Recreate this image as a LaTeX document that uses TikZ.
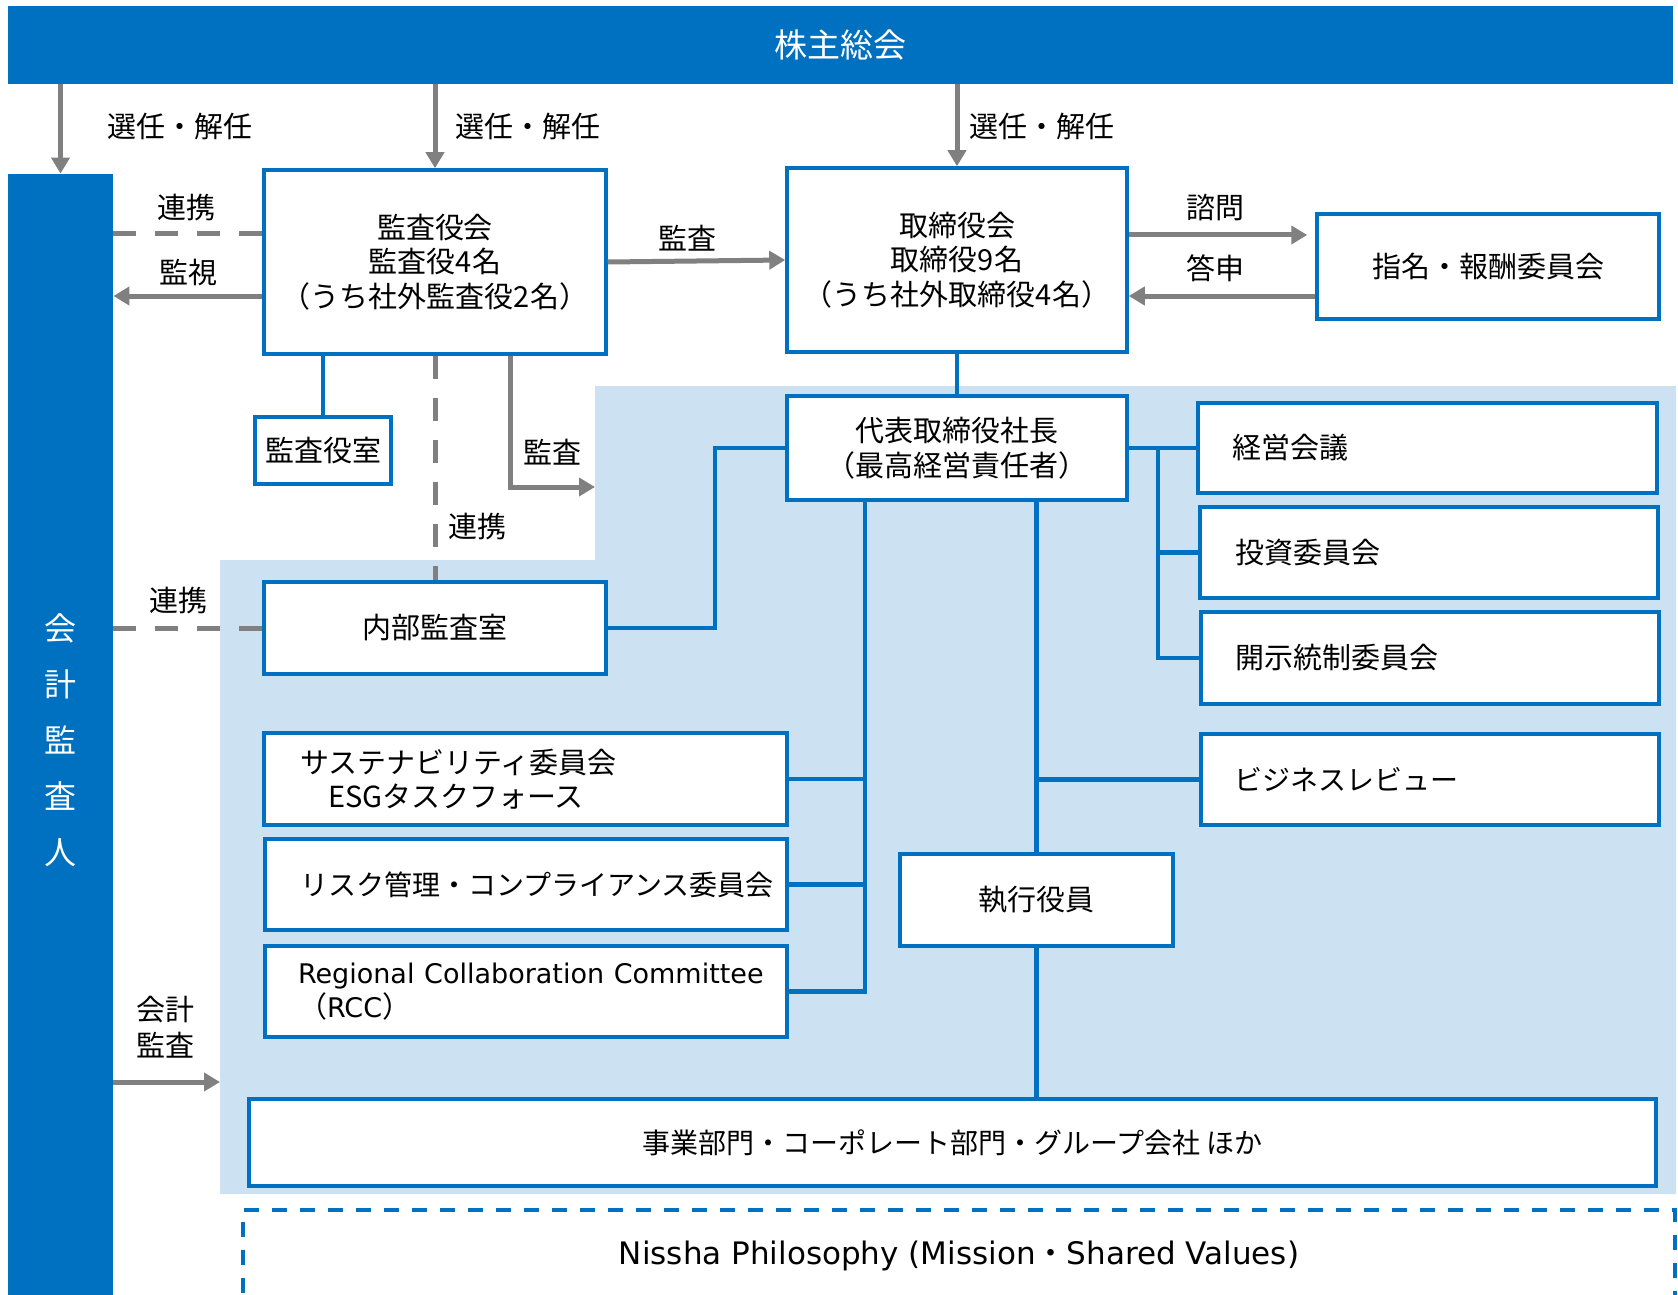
\documentclass[tikz,border=0pt]{standalone}
\usepackage{fontspec}
\setmainfont{Noto Sans CJK JP}
\newfontfamily\latinfont{DejaVu Sans}
\usetikzlibrary{arrows.meta}
\definecolor{NisshaBlue}{HTML}{0070C0}
\definecolor{PaleBlue}{HTML}{CCE1F2}
\definecolor{LinkGray}{HTML}{808080}

\begin{document}
\begin{tikzpicture}[x=0.5pt, y=-0.5pt,
                    box/.style = { draw=NisshaBlue, fill=white, line width=1.75pt, inner sep=0pt, align=center, font=\fontsize{14.5}{17.25}\selectfont },
                    lbox/.style = { box, align=left, text width=#1 },
                    band/.style = { fill=NisshaBlue, text=white, inner sep=0pt, align=center },
                    wire/.style = { draw=NisshaBlue, line width=2.25pt },
                    garrow/.style = { draw=LinkGray, line width=2.5pt, -{Triangle[length=8pt, width=9pt]} },
                    link/.style = { draw=LinkGray, line width=2.5pt, dash pattern=on 11.5pt off 9.5pt },
                    tag/.style = { inner sep=0pt, align=center, font=\fontsize{14.5}{18}\selectfont }]

  \useasboundingbox (0,0) rectangle (1678,1295);
  \fill[PaleBlue] (595,386) -- (1676,386) -- (1676,1194) -- (220,1194) -- (220,560) -- (595,560) -- cycle;

  \node[band, minimum width=832.5pt, minimum height=39pt, font=\fontsize{16.5}{20}\selectfont] (gms) at (840.5,45) {株主総会};
  \node[band, minimum width=52.5pt, minimum height=566pt, font=\fontsize{16}{28}\selectfont] (acct) at (60.5,740) {会\\計\\監\\査\\人};

  \node[box, minimum width=171pt, minimum height=92pt] (kansa) at (435,262) {監査役会\\監査役4名\\（うち社外監査役2名）};
  \node[box, minimum width=170pt, minimum height=92pt] (board) at (957,260) {取締役会\\取締役9名\\（うち社外取締役4名）};
  \node[box, minimum width=171pt, minimum height=52.5pt] (nomination) at (1488,266.5) {指名・報酬委員会};
  \node[box, minimum width=68pt, minimum height=33.5pt] (kshitsu) at (323,450.5) {監査役室};
  \node[box, minimum width=170pt, minimum height=52pt] (ceo) at (957,448) {代表取締役社長\\（最高経営責任者）};
  \node[box, minimum width=171pt, minimum height=46pt] (internal) at (435,628) {内部監査室};

  \node[lbox=229.5pt, minimum height=45pt] (keiei) at (1427.5,448) {\hspace*{17pt}経営会議};
  \node[lbox=229pt, minimum height=45.5pt] (toshi) at (1429,552.5) {\hspace*{17.5pt}投資委員会};
  \node[lbox=229pt, minimum height=46pt] (kaiji) at (1430,658) {\hspace*{17pt}開示統制委員会};
  \node[lbox=229pt, minimum height=45.5pt, font=\fontsize{14}{17.25}\selectfont] (biz) at (1430,779.5) {\hspace*{16.5pt}ビジネスレビュー};
  \node[box, minimum width=136.5pt, minimum height=46pt] (shikko) at (1036.5,900) {執行役員};

  \node[lbox=261.5pt, minimum height=46pt] (sustain) at (525.5,779) {\hspace*{18pt}サステナビリティ委員会\\\hspace*{32pt}ESGタスクフォース};
  \node[lbox=261pt, minimum height=45.5pt, font=\fontsize{14}{17.25}\selectfont] (risk) at (526,884.5) {\hspace*{17.5pt}リスク管理・コンプライアンス委員会};
  \node[lbox=261pt, minimum height=45.5pt] (rcc) at (526,991.5) {\hspace*{16.5pt}{\latinfont\fontsize{13.5}{16}\selectfont Regional Collaboration Committee}\\\hspace*{16.5pt}（{\latinfont\fontsize{13.5}{16}\selectfont RCC}）};

  \node[box, minimum width=703.5pt, minimum height=43.5pt, font=\fontsize{14}{17.25}\selectfont] (jigyo) at (952.5,1142.5) {事業部門・コーポレート部門・グループ会社 ほか};
  \node[box, dash pattern=on 7.5pt off 6.5pt, minimum width=716pt, minimum height=46pt, font=\fontsize{15.5}{19}\selectfont] (philosophy) at (959,1256)
       {{\latinfont Nissha Philosophy (Mission}・{\latinfont Shared Values)}};

  \node[tag] (selacct) at (180,126) {選任・解任};
  \node[tag] (selkansa) at (528,126) {選任・解任};
  \node[tag] (selboard) at (1042,126) {選任・解任};
  \node[tag] (linktop) at (186,208) {連携};
  \node[tag] (watch) at (188,272) {監視};
  \node[tag] (auditboard) at (687,238) {監査};
  \node[tag] (consult) at (1215,208) {諮問};
  \node[tag] (report) at (1215,268) {答申};
  \node[tag] (auditexec) at (552,452) {監査};
  \node[tag] (linkmid) at (477,527) {連携};
  \node[tag] (linkinternal) at (178,601) {連携};
  \node[tag] (acctaudit) at (165,1027) {会計\\監査};

  \coordinate (auditgate) at (595,487);
  \coordinate (acctgate) at (220,1082);
  \coordinate (ibus) at (715,448);
  \coordinate (rbus) at (1158,448);
  \coordinate (lbus) at (865,0);

  \draw[garrow] (gms.south -| acct) -- (acct.north);
  \draw[garrow] (gms.south -| kansa) -- (kansa.north);
  \draw[garrow] (gms.south -| board) -- (board.north);
  \draw[garrow] (kansa.east) -- (board.west);
  \draw[garrow, shorten >=4pt] (board.east |- 0,235) -- (nomination.west |- 0,235);
  \draw[garrow] (nomination.west |- 0,296) -- (board.east |- 0,296);
  \draw[link] (kansa.west |- 0,234) -- (acct.east |- 0,234);
  \draw[garrow] (kansa.west |- 0,296) -- (acct.east |- 0,296);
  \draw[garrow] (kansa.south -| 510,0) |- (auditgate);
  \draw[link] (kansa.south) -- (internal.north);
  \draw[link] (internal.west) -- (internal.west -| acct.east);
  \draw[garrow] (acct.east |- acctgate) -- (acctgate);

  \draw[wire] (kansa.south -| kshitsu) -- (kshitsu.north);
  \draw[wire] (board.south) -- (ceo.north);
  \draw[wire] (internal.east) -| (ibus) -- (ceo.west);
  \draw[wire] (ceo.east) -- (keiei.west);
  \draw[wire] (rbus) |- (kaiji.west);
  \draw[wire] (rbus |- toshi.west) -- (toshi.west);
  \draw[wire] (ceo.south -| lbus) |- (rcc.east);
  \draw[wire] (sustain.east) -- (sustain.east -| lbus);
  \draw[wire] (risk.east) -- (risk.east -| lbus);
  \draw[wire] (ceo.south -| shikko) -- (shikko.north);
  \draw[wire] (biz.west) -- (biz.west -| shikko);
  \draw[wire] (shikko.south) -- (jigyo.north -| shikko);
\end{tikzpicture}
\end{document}
